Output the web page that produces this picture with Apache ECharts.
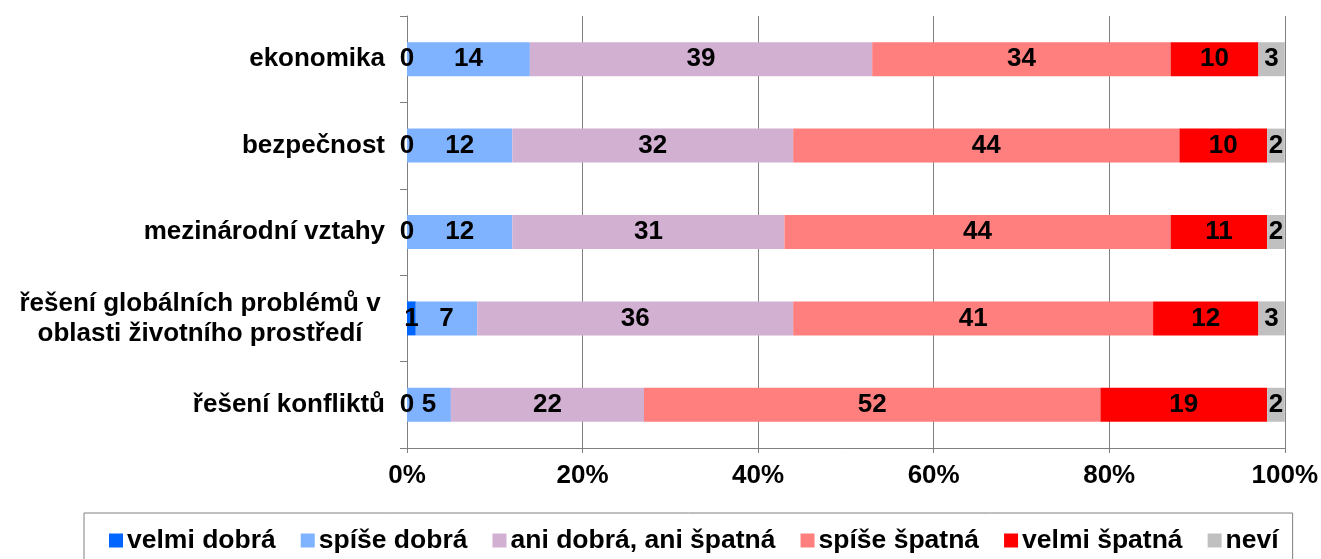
<!DOCTYPE html>
<html>
<head>
<meta charset="utf-8">
<script src="https://cdn.jsdelivr.net/npm/echarts@6/dist/echarts.min.js"></script>
<style>
  html, body { margin: 0; padding: 0; background: #fff; }
  #chart { width: 1321px; height: 559px; }
</style>
</head>
<body>
<div id="chart"></div>
<script>
const categories = [
  'ekonomika',
  'bezpečnost',
  'mezinárodní vztahy',
  'řešení globálních problémů v\noblasti životního prostředí',
  'řešení konfliktů'
]
const seriesNames = ['velmi dobrá', 'spíše dobrá', 'ani dobrá, ani špatná', 'spíše špatná', 'velmi špatná', 'neví']
const velmiDobra = [0, 0, 0, 1, 0]
const spiseDobra = [14, 12, 12, 7, 5]
const aniAni = [39, 32, 31, 36, 22]
const spiseSpatna = [34, 44, 44, 41, 52]
const velmiSpatna = [10, 10, 11, 12, 19]
const nevi = [3, 2, 2, 3, 2]
const colors = ['#0066FF', '#7FB2FF', '#D2B0D2', '#FF7F7F', '#FF0000', '#C0C0C0']

const font = 'Liberation Sans, Arial, sans-serif'
const fs = 26
const values = [velmiDobra, spiseDobra, aniAni, spiseSpatna, velmiSpatna, nevi]

const chart = echarts.init(document.getElementById('chart'))

const series = seriesNames.map((name, i) => ({
  name: name,
  type: 'bar',
  stack: 'total',
  barWidth: 34,
  data: values[i],
  itemStyle: { color: colors[i] },
  label: {
    show: true,
    position: 'inside',
    color: '#000',
    fontFamily: font,
    fontWeight: 'bold',
    fontSize: fs
  }
}))

chart.setOption({
  animation: false,
  grid: { left: 407, right: 34, top: 16, bottom: 111 },
  legend: {
    left: 84,
    top: 513,
    padding: [14, 14, 18, 25],
    borderColor: '#808080',
    borderWidth: 1,
    icon: 'rect',
    itemWidth: 14,
    itemHeight: 14,
    itemGap: 25,
    textStyle: { fontFamily: font, fontWeight: 'bold', fontSize: 26.5, color: '#000', padding: [0, 0, 0, -1] },
    data: seriesNames
  },
  xAxis: {
    type: 'value',
    min: 0,
    max: 100,
    interval: 20,
    axisLine: { show: true, lineStyle: { color: '#808080' } },
    axisTick: { show: true, length: 5, lineStyle: { color: '#808080' } },
    splitLine: { show: true, lineStyle: { color: '#808080', width: 1 } },
    axisLabel: {
      formatter: '{value}%',
      margin: 15,
      color: '#000',
      fontFamily: font,
      fontWeight: 'bold',
      fontSize: fs
    }
  },
  yAxis: {
    type: 'category',
    inverse: true,
    data: categories,
    axisLine: { show: true, lineStyle: { color: '#808080' } },
    axisTick: { show: true, length: 7, lineStyle: { color: '#808080' } },
    axisLabel: {
      margin: 22,
      color: '#000',
      fontFamily: font,
      fontWeight: 'bold',
      fontSize: fs,
      lineHeight: 30,
      formatter: function (v) {
        if (v.indexOf('\n') >= 0) {
          return v.split('\n').map(s => '{c|' + s + '}').join('\n')
        }
        return v
      },
      rich: {
        c: {
          width: 370,
          align: 'center',
          fontFamily: font,
          fontWeight: 'bold',
          fontSize: fs,
          lineHeight: 30,
          color: '#000'
        }
      }
    }
  },
  series: series
})
</script>
</body>
</html>
